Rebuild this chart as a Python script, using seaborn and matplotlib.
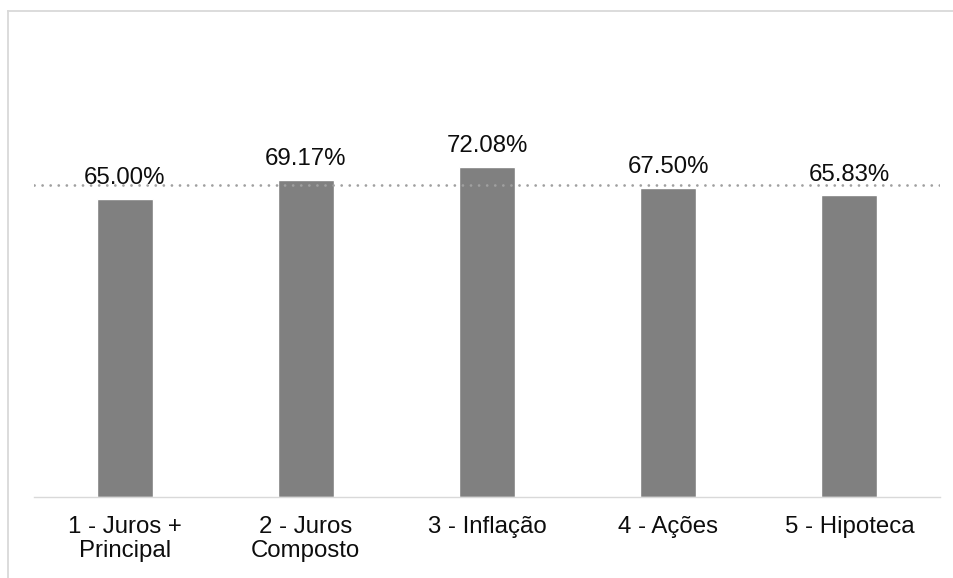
import matplotlib
matplotlib.use("Agg")
import matplotlib.pyplot as plt
from matplotlib.lines import Line2D
import seaborn as sns
import pandas as pd

categorias = ["1 - Juros +\nPrincipal", "2 - Juros\nComposto", "3 - Inflação", "4 - Ações", "5 - Hipoteca"]
valores = [65.00, 69.17, 72.08, 67.50, 65.83]
referencia = 68.0

sns.set_theme(style="white")
plt.rcParams["font.family"] = ["Liberation Sans", "DejaVu Sans"]

df = pd.DataFrame({"cat": categorias, "val": valores})

fig = plt.figure(figsize=(9.54, 5.78), dpi=100)
ax = fig.add_axes([34 / 954, 1 - 496.5 / 578, 906 / 954, 366 / 578])

sns.barplot(data=df, x="cat", y="val", color="#808080", saturation=1, width=0.31, ax=ax)

ax.set_xlim(-0.5, len(categorias) - 0.5)
ax.set_ylim(0, 80)

ax.axhline(referencia, color="#a0a0a0", linewidth=2.0, linestyle=(0, (0.01, 2.9)),
           dash_capstyle="round", zorder=3)

for i, v in enumerate(valores):
    ax.annotate(f"{v:.2f}%", xy=(i, v), xytext=(0, 7), textcoords="offset points",
                ha="center", va="bottom", fontsize=17.3, color="#0d0d0d", zorder=4)

for s in ["top", "right", "left"]:
    ax.spines[s].set_visible(False)
ax.spines["bottom"].set_color("#d9d9d9")
ax.spines["bottom"].set_linewidth(1.0)

ax.set_yticks([])
ax.set_xlabel("")
ax.set_ylabel("")
ax.tick_params(axis="x", length=0, pad=14, labelsize=17.3, labelcolor="#0d0d0d")
for lbl in ax.get_xticklabels():
    lbl.set_linespacing(1.15)

fx = 8.5 / 954
fy = 1 - 10.5 / 578
fig.add_artist(Line2D([fx, fx], [0, fy], transform=fig.transFigure,
                      color="#d9d9d9", linewidth=1.3, solid_capstyle="projecting"))
fig.add_artist(Line2D([fx, 1.0], [fy, fy], transform=fig.transFigure,
                      color="#d9d9d9", linewidth=1.3, solid_capstyle="projecting"))

fig.savefig("out.png", dpi=100, facecolor="white")
